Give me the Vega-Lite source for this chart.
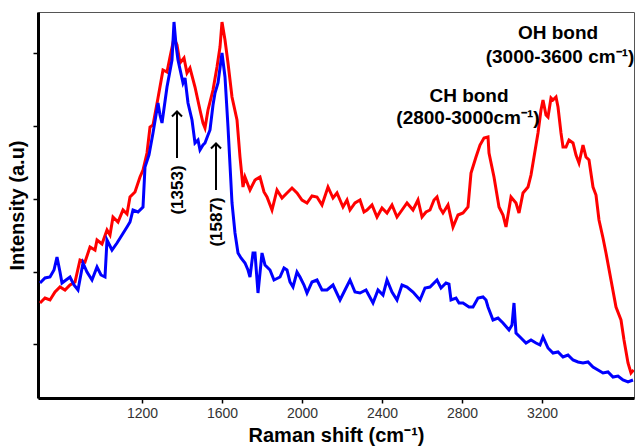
{
  "$schema": "https://vega.github.io/schema/vega-lite/v6.json",
  "description": "Raman spectra of two samples with D, G, CH and OH band annotations.",
  "width": 596,
  "height": 386,
  "autosize": "none",
  "padding": {"left": 38, "top": 12, "right": 2, "bottom": 48},
  "datasets": {
    "red": [
      {"shift": 690, "intensity": 95}, {"shift": 715, "intensity": 100}, {"shift": 740, "intensity": 98},
      {"shift": 765, "intensity": 106}, {"shift": 790, "intensity": 111}, {"shift": 815, "intensity": 108},
      {"shift": 840, "intensity": 113}, {"shift": 865, "intensity": 116}, {"shift": 890, "intensity": 138},
      {"shift": 915, "intensity": 136}, {"shift": 940, "intensity": 151}, {"shift": 965, "intensity": 148},
      {"shift": 975, "intensity": 158}, {"shift": 1000, "intensity": 154}, {"shift": 1025, "intensity": 168},
      {"shift": 1040, "intensity": 163}, {"shift": 1055, "intensity": 181}, {"shift": 1080, "intensity": 176},
      {"shift": 1105, "intensity": 188}, {"shift": 1125, "intensity": 184}, {"shift": 1140, "intensity": 201},
      {"shift": 1165, "intensity": 206}, {"shift": 1190, "intensity": 221}, {"shift": 1205, "intensity": 228},
      {"shift": 1225, "intensity": 245}, {"shift": 1240, "intensity": 271}, {"shift": 1255, "intensity": 273},
      {"shift": 1280, "intensity": 300}, {"shift": 1305, "intensity": 328}, {"shift": 1325, "intensity": 326},
      {"shift": 1340, "intensity": 341}, {"shift": 1360, "intensity": 360}, {"shift": 1375, "intensity": 353},
      {"shift": 1390, "intensity": 335}, {"shift": 1410, "intensity": 340}, {"shift": 1425, "intensity": 325},
      {"shift": 1440, "intensity": 330}, {"shift": 1465, "intensity": 311}, {"shift": 1490, "intensity": 288},
      {"shift": 1505, "intensity": 275}, {"shift": 1515, "intensity": 270}, {"shift": 1530, "intensity": 288},
      {"shift": 1555, "intensity": 308}, {"shift": 1575, "intensity": 331}, {"shift": 1590, "intensity": 351},
      {"shift": 1600, "intensity": 376}, {"shift": 1615, "intensity": 358}, {"shift": 1630, "intensity": 335},
      {"shift": 1650, "intensity": 301}, {"shift": 1675, "intensity": 278}, {"shift": 1690, "intensity": 241},
      {"shift": 1705, "intensity": 211}, {"shift": 1715, "intensity": 221}, {"shift": 1740, "intensity": 208},
      {"shift": 1765, "intensity": 218}, {"shift": 1790, "intensity": 221}, {"shift": 1810, "intensity": 206},
      {"shift": 1825, "intensity": 201}, {"shift": 1850, "intensity": 188}, {"shift": 1875, "intensity": 208},
      {"shift": 1900, "intensity": 200}, {"shift": 1925, "intensity": 205}, {"shift": 1950, "intensity": 210},
      {"shift": 1975, "intensity": 205}, {"shift": 2000, "intensity": 198}, {"shift": 2025, "intensity": 195},
      {"shift": 2050, "intensity": 202}, {"shift": 2075, "intensity": 201}, {"shift": 2100, "intensity": 193},
      {"shift": 2130, "intensity": 211}, {"shift": 2155, "intensity": 200}, {"shift": 2175, "intensity": 205},
      {"shift": 2205, "intensity": 191}, {"shift": 2225, "intensity": 198}, {"shift": 2240, "intensity": 188},
      {"shift": 2265, "intensity": 195}, {"shift": 2290, "intensity": 198}, {"shift": 2310, "intensity": 186},
      {"shift": 2325, "intensity": 188}, {"shift": 2350, "intensity": 193}, {"shift": 2375, "intensity": 181},
      {"shift": 2400, "intensity": 190}, {"shift": 2425, "intensity": 185}, {"shift": 2450, "intensity": 193},
      {"shift": 2475, "intensity": 181}, {"shift": 2500, "intensity": 188}, {"shift": 2525, "intensity": 195},
      {"shift": 2555, "intensity": 188}, {"shift": 2580, "intensity": 198}, {"shift": 2600, "intensity": 181},
      {"shift": 2620, "intensity": 186}, {"shift": 2640, "intensity": 188}, {"shift": 2660, "intensity": 198},
      {"shift": 2675, "intensity": 201}, {"shift": 2690, "intensity": 190}, {"shift": 2705, "intensity": 185},
      {"shift": 2730, "intensity": 193}, {"shift": 2755, "intensity": 171}, {"shift": 2780, "intensity": 183},
      {"shift": 2805, "intensity": 185}, {"shift": 2830, "intensity": 191}, {"shift": 2845, "intensity": 225},
      {"shift": 2870, "intensity": 241}, {"shift": 2890, "intensity": 253}, {"shift": 2910, "intensity": 260},
      {"shift": 2930, "intensity": 261}, {"shift": 2935, "intensity": 245}, {"shift": 2960, "intensity": 221},
      {"shift": 2985, "intensity": 191}, {"shift": 3005, "intensity": 183}, {"shift": 3020, "intensity": 171},
      {"shift": 3045, "intensity": 201}, {"shift": 3070, "intensity": 195}, {"shift": 3085, "intensity": 185},
      {"shift": 3105, "intensity": 205}, {"shift": 3130, "intensity": 211}, {"shift": 3145, "intensity": 223},
      {"shift": 3155, "intensity": 235}, {"shift": 3170, "intensity": 253}, {"shift": 3180, "intensity": 265},
      {"shift": 3195, "intensity": 288}, {"shift": 3205, "intensity": 298}, {"shift": 3220, "intensity": 283},
      {"shift": 3230, "intensity": 281}, {"shift": 3245, "intensity": 300}, {"shift": 3255, "intensity": 298},
      {"shift": 3270, "intensity": 301}, {"shift": 3280, "intensity": 291}, {"shift": 3295, "intensity": 265},
      {"shift": 3305, "intensity": 251}, {"shift": 3320, "intensity": 251}, {"shift": 3335, "intensity": 258},
      {"shift": 3355, "intensity": 255}, {"shift": 3370, "intensity": 243}, {"shift": 3385, "intensity": 235},
      {"shift": 3405, "intensity": 253}, {"shift": 3420, "intensity": 241}, {"shift": 3435, "intensity": 238},
      {"shift": 3455, "intensity": 211}, {"shift": 3470, "intensity": 203}, {"shift": 3485, "intensity": 178},
      {"shift": 3505, "intensity": 160}, {"shift": 3520, "intensity": 145}, {"shift": 3545, "intensity": 118},
      {"shift": 3570, "intensity": 91}, {"shift": 3595, "intensity": 78}, {"shift": 3610, "intensity": 58},
      {"shift": 3630, "intensity": 35}, {"shift": 3645, "intensity": 25}, {"shift": 3658, "intensity": 28}
    ],
    "blue": [
      {"shift": 690, "intensity": 115}, {"shift": 715, "intensity": 120}, {"shift": 740, "intensity": 121},
      {"shift": 760, "intensity": 128}, {"shift": 775, "intensity": 141}, {"shift": 790, "intensity": 126},
      {"shift": 800, "intensity": 115}, {"shift": 820, "intensity": 118}, {"shift": 840, "intensity": 121},
      {"shift": 860, "intensity": 113}, {"shift": 880, "intensity": 108}, {"shift": 905, "intensity": 135},
      {"shift": 925, "intensity": 126}, {"shift": 950, "intensity": 118}, {"shift": 975, "intensity": 131},
      {"shift": 995, "intensity": 123}, {"shift": 1015, "intensity": 121}, {"shift": 1025, "intensity": 158},
      {"shift": 1050, "intensity": 148}, {"shift": 1075, "intensity": 155}, {"shift": 1100, "intensity": 163},
      {"shift": 1125, "intensity": 171}, {"shift": 1140, "intensity": 176}, {"shift": 1155, "intensity": 188},
      {"shift": 1180, "intensity": 186}, {"shift": 1205, "intensity": 191}, {"shift": 1215, "intensity": 231},
      {"shift": 1235, "intensity": 243}, {"shift": 1255, "intensity": 265}, {"shift": 1280, "intensity": 295},
      {"shift": 1290, "intensity": 283}, {"shift": 1300, "intensity": 275}, {"shift": 1325, "intensity": 311},
      {"shift": 1350, "intensity": 338}, {"shift": 1360, "intensity": 376}, {"shift": 1370, "intensity": 353},
      {"shift": 1380, "intensity": 338}, {"shift": 1405, "intensity": 315}, {"shift": 1415, "intensity": 320},
      {"shift": 1430, "intensity": 295}, {"shift": 1450, "intensity": 278}, {"shift": 1465, "intensity": 255},
      {"shift": 1480, "intensity": 258}, {"shift": 1490, "intensity": 248}, {"shift": 1505, "intensity": 253},
      {"shift": 1515, "intensity": 255}, {"shift": 1530, "intensity": 263}, {"shift": 1540, "intensity": 268},
      {"shift": 1555, "intensity": 293}, {"shift": 1565, "intensity": 305}, {"shift": 1580, "intensity": 315},
      {"shift": 1600, "intensity": 345}, {"shift": 1615, "intensity": 321}, {"shift": 1630, "intensity": 271},
      {"shift": 1650, "intensity": 195}, {"shift": 1665, "intensity": 165}, {"shift": 1680, "intensity": 145},
      {"shift": 1695, "intensity": 140}, {"shift": 1715, "intensity": 135}, {"shift": 1730, "intensity": 128},
      {"shift": 1740, "intensity": 121}, {"shift": 1755, "intensity": 145}, {"shift": 1765, "intensity": 145},
      {"shift": 1780, "intensity": 105}, {"shift": 1800, "intensity": 145}, {"shift": 1815, "intensity": 133},
      {"shift": 1840, "intensity": 128}, {"shift": 1860, "intensity": 118}, {"shift": 1890, "intensity": 121},
      {"shift": 1910, "intensity": 130}, {"shift": 1925, "intensity": 128}, {"shift": 1940, "intensity": 116},
      {"shift": 1955, "intensity": 111}, {"shift": 1975, "intensity": 126}, {"shift": 1990, "intensity": 121},
      {"shift": 2010, "intensity": 113}, {"shift": 2025, "intensity": 105}, {"shift": 2050, "intensity": 116},
      {"shift": 2075, "intensity": 118}, {"shift": 2100, "intensity": 108}, {"shift": 2125, "intensity": 108},
      {"shift": 2155, "intensity": 113}, {"shift": 2190, "intensity": 98}, {"shift": 2215, "intensity": 108},
      {"shift": 2240, "intensity": 118}, {"shift": 2265, "intensity": 106}, {"shift": 2290, "intensity": 105},
      {"shift": 2320, "intensity": 108}, {"shift": 2355, "intensity": 95}, {"shift": 2380, "intensity": 108},
      {"shift": 2405, "intensity": 103}, {"shift": 2425, "intensity": 118}, {"shift": 2450, "intensity": 106},
      {"shift": 2475, "intensity": 98}, {"shift": 2500, "intensity": 113}, {"shift": 2525, "intensity": 111},
      {"shift": 2555, "intensity": 106}, {"shift": 2590, "intensity": 98}, {"shift": 2615, "intensity": 110},
      {"shift": 2640, "intensity": 111}, {"shift": 2675, "intensity": 118}, {"shift": 2695, "intensity": 110},
      {"shift": 2720, "intensity": 115}, {"shift": 2735, "intensity": 114}, {"shift": 2745, "intensity": 98},
      {"shift": 2770, "intensity": 100}, {"shift": 2785, "intensity": 95}, {"shift": 2805, "intensity": 95},
      {"shift": 2835, "intensity": 91}, {"shift": 2855, "intensity": 91}, {"shift": 2880, "intensity": 100},
      {"shift": 2905, "intensity": 101}, {"shift": 2920, "intensity": 98}, {"shift": 2930, "intensity": 91},
      {"shift": 2955, "intensity": 78}, {"shift": 2980, "intensity": 80}, {"shift": 3005, "intensity": 75},
      {"shift": 3035, "intensity": 68}, {"shift": 3050, "intensity": 73}, {"shift": 3060, "intensity": 95},
      {"shift": 3070, "intensity": 65}, {"shift": 3095, "intensity": 60}, {"shift": 3120, "intensity": 55},
      {"shift": 3145, "intensity": 58}, {"shift": 3170, "intensity": 55}, {"shift": 3190, "intensity": 53},
      {"shift": 3205, "intensity": 61}, {"shift": 3230, "intensity": 50}, {"shift": 3255, "intensity": 45},
      {"shift": 3280, "intensity": 46}, {"shift": 3305, "intensity": 41}, {"shift": 3330, "intensity": 43},
      {"shift": 3355, "intensity": 38}, {"shift": 3380, "intensity": 36}, {"shift": 3405, "intensity": 35},
      {"shift": 3430, "intensity": 36}, {"shift": 3455, "intensity": 31}, {"shift": 3480, "intensity": 28},
      {"shift": 3505, "intensity": 25}, {"shift": 3530, "intensity": 26}, {"shift": 3555, "intensity": 21},
      {"shift": 3580, "intensity": 22}, {"shift": 3605, "intensity": 18}, {"shift": 3630, "intensity": 16},
      {"shift": 3655, "intensity": 18}
    ],
    "labels": [
      {"shift": 3280, "intensity": 365, "text": "OH bond"},
      {"shift": 3290, "intensity": 341, "text": "(3000-3600 cm⁻¹)"},
      {"shift": 2835, "intensity": 302, "text": "CH bond"},
      {"shift": 2830, "intensity": 280, "text": "(2800-3000cm⁻¹)"}
    ],
    "peaks": [
      {"shift": 1380, "intensity": 208, "text": "(1353)"},
      {"shift": 1575, "intensity": 176, "text": "(1587)"}
    ],
    "arrows": [
      {"shift": 1375, "base": 240, "tip": 285},
      {"shift": 1570, "base": 208, "tip": 253}
    ]
  },
  "layer": [
    {
      "data": {"name": "red"},
      "mark": {"type": "line", "color": "#ff0000", "strokeWidth": 3, "strokeJoin": "miter", "clip": true},
      "encoding": {
        "x": {
          "field": "shift", "type": "quantitative",
          "scale": {"domain": [680, 3660], "nice": false, "zero": false},
          "axis": {
            "title": "Raman shift (cm⁻¹)",
            "values": [1200, 1600, 2000, 2400, 2800, 3200],
            "format": "d",
            "grid": false, "domainColor": "#000000", "domainWidth": 3,
            "tickColor": "#000000", "tickWidth": 1.5, "tickSize": 5,
            "labelFont": "Liberation Sans", "labelFontSize": 14, "labelColor": "#333333", "labelPadding": 3,
            "titleFont": "Liberation Sans", "titleFontSize": 20, "titleFontWeight": "bold", "titleColor": "#000000",
            "titlePadding": 5
          }
        },
        "y": {
          "field": "intensity", "type": "quantitative",
          "scale": {"domain": [0, 386], "nice": false, "zero": false},
          "axis": {
            "title": "Intensity (a.u)",
            "values": [54, 126, 199, 272, 345],
            "labels": false, "grid": false, "domainColor": "#000000", "domainWidth": 3,
            "tickColor": "#000000", "tickWidth": 1.5, "tickSize": 5,
            "titleFont": "Liberation Sans", "titleFontSize": 20, "titleFontWeight": "bold", "titleColor": "#000000",
            "titlePadding": 5
          }
        }
      }
    },
    {
      "data": {"name": "blue"},
      "mark": {"type": "line", "color": "#0000ff", "strokeWidth": 3, "strokeJoin": "miter", "clip": true},
      "encoding": {
        "x": {"field": "shift", "type": "quantitative"},
        "y": {"field": "intensity", "type": "quantitative"}
      }
    },
    {
      "data": {"name": "arrows"},
      "mark": {"type": "rule", "color": "#000000", "strokeWidth": 2},
      "encoding": {
        "x": {"field": "shift", "type": "quantitative"},
        "y": {"field": "base", "type": "quantitative"},
        "y2": {"field": "tip"}
      }
    },
    {
      "data": {"name": "arrows"},
      "mark": {"type": "point", "shape": "M-1,0.7L0,-0.3L1,0.7", "filled": false, "color": "#000000", "strokeWidth": 2, "size": 100, "opacity": 1},
      "encoding": {
        "x": {"field": "shift", "type": "quantitative"},
        "y": {"field": "tip", "type": "quantitative"}
      }
    },
    {
      "data": {"name": "labels"},
      "mark": {"type": "text", "font": "Liberation Sans", "fontSize": 19, "fontWeight": "bold", "color": "#000000", "align": "center", "baseline": "middle"},
      "encoding": {
        "x": {"field": "shift", "type": "quantitative"},
        "y": {"field": "intensity", "type": "quantitative"},
        "text": {"field": "text"}
      }
    },
    {
      "data": {"name": "peaks"},
      "mark": {"type": "text", "font": "Liberation Sans", "fontSize": 17, "fontWeight": "bold", "color": "#000000", "align": "center", "baseline": "middle", "angle": 270},
      "encoding": {
        "x": {"field": "shift", "type": "quantitative"},
        "y": {"field": "intensity", "type": "quantitative"},
        "text": {"field": "text"}
      }
    }
  ],
  "config": {
    "view": {"stroke": "#555555", "strokeWidth": 1},
    "background": "#ffffff"
  }
}
